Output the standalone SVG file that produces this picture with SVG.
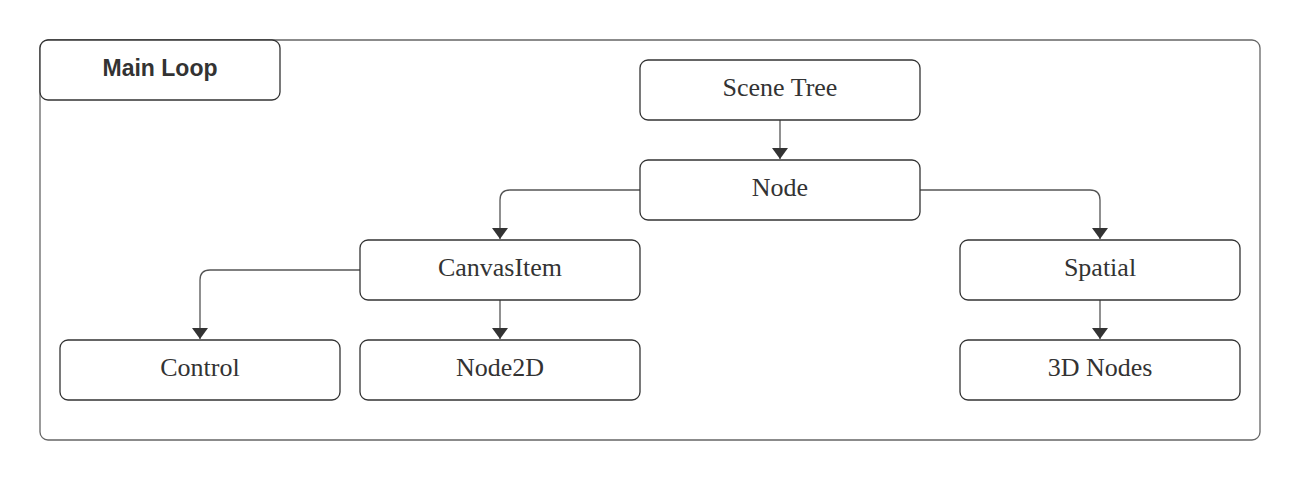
<svg xmlns="http://www.w3.org/2000/svg" width="1300" height="480" viewBox="0 0 1300 480">
<style>
.box{fill:#fff;stroke:#333;stroke-width:1.3}
.lbl{font-family:"Liberation Serif",serif;font-size:26px;fill:#333;text-anchor:middle;dominant-baseline:central}
.conn{fill:none;stroke:#555;stroke-width:1.3}
</style>
<defs>
<marker id="arr" viewBox="0 0 11 16" refX="11" refY="8" markerWidth="11" markerHeight="16" markerUnits="userSpaceOnUse" orient="auto">
<path d="M0,0 L11,8 L0,16 Z" fill="#333"/>
</marker>
</defs>
<rect width="1300" height="480" fill="#fff"/>
<g id="main-loop">
<rect x="40" y="40" width="1220" height="400" rx="8" fill="#fff" stroke="#666" stroke-width="1.3"/>
<rect class="box" x="40" y="40" width="240" height="60" rx="8"/>
<text x="160" y="68" font-family="Liberation Sans,Arial,sans-serif" font-size="23" font-weight="bold" fill="#333" text-anchor="middle" dominant-baseline="central">Main Loop</text>
</g>
<g id="connectors">
<path class="conn" d="M780,120 V159" marker-end="url(#arr)"/>
<path class="conn" d="M640,190 H510 Q500,190 500,200 V239" marker-end="url(#arr)"/>
<path class="conn" d="M920,190 H1090 Q1100,190 1100,200 V239" marker-end="url(#arr)"/>
<path class="conn" d="M360,270 H210 Q200,270 200,280 V339" marker-end="url(#arr)"/>
<path class="conn" d="M500,300 V339" marker-end="url(#arr)"/>
<path class="conn" d="M1100,300 V339" marker-end="url(#arr)"/>
</g>
<g id="scene-tree"><rect class="box" x="640" y="60" width="280" height="60" rx="8"/><text class="lbl" x="780" y="87">Scene Tree</text></g>
<g id="node"><rect class="box" x="640" y="160" width="280" height="60" rx="8"/><text class="lbl" x="780" y="187">Node</text></g>
<g id="canvasitem"><rect class="box" x="360" y="240" width="280" height="60" rx="8"/><text class="lbl" x="500" y="267">CanvasItem</text></g>
<g id="spatial"><rect class="box" x="960" y="240" width="280" height="60" rx="8"/><text class="lbl" x="1100" y="267">Spatial</text></g>
<g id="control"><rect class="box" x="60" y="340" width="280" height="60" rx="8"/><text class="lbl" x="200" y="367">Control</text></g>
<g id="node2d"><rect class="box" x="360" y="340" width="280" height="60" rx="8"/><text class="lbl" x="500" y="367">Node2D</text></g>
<g id="3d-nodes"><rect class="box" x="960" y="340" width="280" height="60" rx="8"/><text class="lbl" x="1100" y="367">3D Nodes</text></g>
</svg>
